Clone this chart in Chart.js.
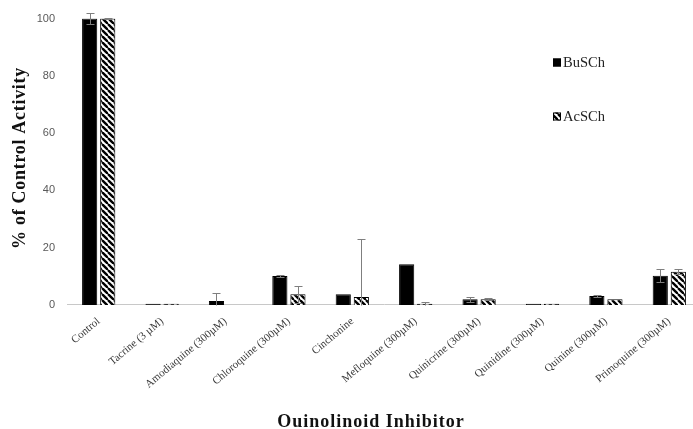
<!DOCTYPE html>
<html>
<head>
<meta charset="utf-8">
<script src="https://cdn.jsdelivr.net/npm/chart.js@4.4.1/dist/chart.umd.min.js"></script>
<style>
  html, body { margin: 0; padding: 0; background: #fff; overflow: hidden; }
  #wrap { width: 706px; height: 429px; }
</style>
</head>
<body>
<div id="wrap"><canvas id="c" width="706" height="429"></canvas></div>
<script>
// Inhibitors tested
const categories = [
  'Control', 'Tacrine (3 \u00b5M)', 'Amodiaquine (300\u00b5M)', 'Chloroquine (300\u00b5M)',
  'Cinchonine', 'Mefloquine (300\u00b5M)', 'Quinicrine (300\u00b5M)', 'Quinidine (300\u00b5M)',
  'Quinine (300\u00b5M)', 'Primoquine (300\u00b5M)'
];
// % of control activity, BuSCh substrate
const buschValues = [100, 0.4, 1.4, 10.1, 3.7, 14.2, 2.0, 0.4, 3.1, 10.2];
const buschErrors = [2.0, 0, 2.7, 0.3, 0, 0, 0.9, 0, 0.3, 2.3];
// % of control activity, AcSCh substrate
const acschValues = [100, 0.4, 0, 3.7, 2.8, 0.4, 2.0, 0.4, 2.0, 11.6];
const acschErrors = [0.3, 0, 0, 3.0, 20.3, 0.5, 0.4, 0, 0, 0.9];
const yTicks = [0, 20, 40, 60, 80, 100];
const xTitle = 'Ouinolinoid Inhibitor';
const yTitle = '% of Control Activity';

const serif = '"Liberation Serif", "Times New Roman", serif';
const sans = '"Liberation Sans", Arial, sans-serif';

// diagonal hatch fill
function makeHatch() {
  const s = 6;
  const p = document.createElement('canvas');
  p.width = s; p.height = s;
  const g = p.getContext('2d');
  g.fillStyle = '#fff';
  g.fillRect(0, 0, s, s);
  g.strokeStyle = '#000';
  g.lineWidth = 2.4;
  for (const x0 of [-s, 0, s]) {
    g.beginPath();
    g.moveTo(x0, 0);
    g.lineTo(x0 + s, s);
    g.stroke();
  }
  return document.getElementById('c').getContext('2d').createPattern(p, 'repeat');
}
const hatch = makeHatch();

// error bars with caps
const errorBars = {
  id: 'errorBars',
  afterDatasetsDraw(chart) {
    const { ctx } = chart;
    const y = chart.scales.y;
    ctx.save();
    ctx.strokeStyle = '#7f7f7f';
    ctx.lineWidth = 1;
    chart.data.datasets.forEach((ds, i) => {
      const meta = chart.getDatasetMeta(i);
      meta.data.forEach((bar, j) => {
        const e = ds.errors[j];
        if (!e) return;
        const v = ds.data[j];
        const x = Math.round(bar.x) + 0.5;
        const top = Math.round(y.getPixelForValue(v + e)) + 0.5;
        const low = v - e;
        const bot = Math.round(y.getPixelForValue(Math.max(0, low))) + 0.5;
        ctx.beginPath();
        ctx.moveTo(x, top); ctx.lineTo(x, bot);
        ctx.moveTo(x - 4, top); ctx.lineTo(x + 4, top);
        if (low > 0) { ctx.moveTo(x - 4, bot); ctx.lineTo(x + 4, bot); }
        ctx.stroke();
      });
    });
    ctx.restore();
  }
};

// legend entries inside the plot, and the two axis titles
const annotations = {
  id: 'annotations',
  afterDraw(chart) {
    const { ctx } = chart;
    const spots = [[553, 62], [553, 116]];
    ctx.save();
    chart.data.datasets.forEach((ds, i) => {
      const [lx, ly] = spots[i];
      ctx.fillStyle = ds.backgroundColor;
      ctx.fillRect(lx, ly - 3.5, 8, 8);
      ctx.strokeStyle = '#000';
      ctx.lineWidth = 1;
      ctx.strokeRect(lx + 0.5, ly - 3, 7, 7);
      ctx.fillStyle = '#222';
      ctx.font = '14.5px ' + serif;
      ctx.textBaseline = 'middle';
      ctx.fillText(ds.label, lx + 10, ly + 1);
    });
    ctx.fillStyle = '#111';
    ctx.textAlign = 'center';
    ctx.textBaseline = 'middle';
    ctx.font = 'bold 18px ' + serif;
    ctx.letterSpacing = '1px';
    ctx.fillText(xTitle, 371, 422);
    ctx.letterSpacing = '0.7px';
    ctx.translate(20, 158);
    ctx.rotate(-Math.PI / 2);
    ctx.fillText(yTitle, 0, 0);
    ctx.restore();
  }
};

new Chart(document.getElementById('c'), {
  type: 'bar',
  data: {
    labels: categories,
    datasets: [
      { label: 'BuSCh', data: buschValues, errors: buschErrors,
        backgroundColor: '#000', borderColor: '#000', borderWidth: 1 },
      { label: 'AcSCh', data: acschValues, errors: acschErrors,
        backgroundColor: hatch, borderColor: '#000', borderWidth: 1 }
    ]
  },
  options: {
    responsive: false,
    animation: false,
    devicePixelRatio: 1,
    layout: { padding: { top: 16, right: 5, left: 0, bottom: 28 } },
    datasets: { bar: { categoryPercentage: 0.57, barPercentage: 0.84 } },
    plugins: { legend: { display: false }, tooltip: { enabled: false } },
    scales: {
      x: {
        grid: { display: false, drawTicks: false },
        border: { display: true, color: '#c8c8c8', width: 1 },
        ticks: {
          autoSkip: false, minRotation: 40, maxRotation: 40, padding: 10,
          color: '#3a3a3a', font: { family: serif, size: 11 }
        }
      },
      y: {
        min: 0, max: 100,
        afterBuildTicks(scale) { scale.ticks = yTicks.map(v => ({ value: v })); },
        afterFit(scale) { scale.width = 67; },
        grid: { display: false, drawTicks: false },
        border: { display: false },
        ticks: { padding: 12, color: '#595959', font: { family: sans, size: 11 } }
      }
    }
  },
  plugins: [errorBars, annotations]
});
</script>
</body>
</html>
